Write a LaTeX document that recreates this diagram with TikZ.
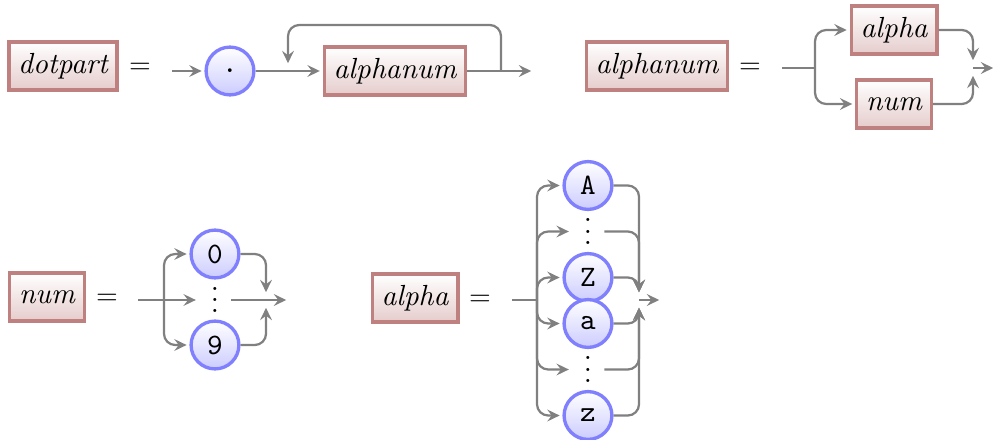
\documentclass[tikz,border=0pt]{standalone}
\usetikzlibrary{arrows.meta,calc}
\newcommand{\myvdots}{\vbox{\baselineskip=4pt\lineskiplimit=0pt\hbox{.}\hbox{.}\hbox{.}}}
\begin{document}
\begin{tikzpicture}[x=0.3571pt,y=-0.3571pt,
  nonterm/.style={rectangle, minimum size=6mm, very thick, draw=red!50!black!50,
    top color=white, bottom color=red!50!black!20, font=\fontsize{10.4pt}{12pt}\selectfont\itshape},
  term/.style={circle, minimum size=6mm, inner sep=0pt, very thick, draw=blue!50,
    top color=white, bottom color=blue!20, font=\fontsize{10.6pt}{12pt}\selectfont\ttfamily},
  dotsn/.style={inner xsep=4.2pt, inner ysep=0pt, font=\fontsize{10.4pt}{12pt}\selectfont},
  eqs/.style={inner sep=0pt},
  conn/.style={thick, draw=black!50, rounded corners=4pt, shorten >=1pt,
    -{Stealth[length=4.4pt,width=4.2pt,inset=1.6pt]}},
  plain/.style={thick, draw=black!50, rounded corners=4pt}]
\useasboundingbox (0,0) rectangle (996,439);

% dotpart = . alphanum (loop)
\node[nonterm] (dp) at (63,66) {dotpart};
\node[eqs] (e1) at (140,68) {$=$};
\node[term] (dot) at (230,71) {.};
\node[nonterm] (an1) at (395,71) {alphanum};
\coordinate (s1) at (172,71);
\coordinate (t1) at (534,71);
\coordinate (lpa) at (501,71);
\coordinate (lpb) at (501,25);
\coordinate (lpc) at (288,25);
\coordinate (lpd) at (288,66);
\draw[conn] (s1) -- (dot);
\draw[conn] (dot) -- (an1);
\draw[conn] (an1) -- (t1);
\draw[conn] (lpa) -- (lpb) -- (lpc) -- (lpd);

% alphanum = alpha | num
\node[nonterm] (an2) at (657,66) {alphanum};
\node[eqs] (e2) at (750,68) {$=$};
\node[nonterm] (al1) at (894,30) {alpha};
\node[nonterm] (nm1) at (894,104) {num};
\coordinate (s2) at (782,68);
\coordinate (b2) at (815,68);
\coordinate (m2) at (973,68);
\coordinate (t2) at (996,68);
\draw[plain] (s2) -- (b2);
\draw[conn] (b2) |- (al1);
\draw[conn] (b2) |- (nm1);
\draw[conn] (al1) -| ($(m2)+(0,-5)$);
\draw[conn] (nm1) -| ($(m2)+(0,5)$);
\draw[conn] (m2) -- (t2);

% num = 0 | ... | 9
\node[nonterm] (nm2) at (47,297) {num};
\node[eqs] (e3) at (107,299) {$=$};
\node[term] (d0) at (215,254) {0};
\node[dotsn] (dv1) at (215,300) {\myvdots};
\node[term] (d9) at (215,345) {9};
\coordinate (s3) at (138,300);
\coordinate (b3) at (164,300);
\coordinate (m3) at (266,300);
\coordinate (t3) at (289,300);
\draw[conn] (s3) -- (dv1);
\draw[conn] (b3) |- (d0);
\draw[conn] (b3) |- (d9);
\draw[conn] (d0) -| ($(m3)+(0,-5)$);
\draw[conn] (d9) -| ($(m3)+(0,5)$);
\draw[conn] (dv1) -- (t3);

% alpha = A | ... | Z | a | ... | z
\node[nonterm] (al2) at (415,298) {alpha};
\node[eqs] (e4) at (480,300) {$=$};
\node[term] (nA) at (588,185.5) {A};
\node[dotsn] (ndA) at (588,231.5) {\myvdots};
\node[term] (nZ) at (588,277.5) {Z};
\node[term] (na) at (588,323.5) {a};
\node[dotsn] (nda) at (588,369.5) {\myvdots};
\node[term] (nz) at (588,415.5) {z};
\coordinate (s4) at (512,300);
\coordinate (b4) at (537,300);
\coordinate (m4) at (639,300);
\coordinate (t4) at (662,300);
\draw[plain] (s4) -- (b4);
\foreach \n in {nA,ndA,nZ,na,nda,nz} \draw[conn] (b4) |- (\n);
\foreach \n in {nA,ndA,nZ} \draw[conn] (\n) -| ($(m4)+(0,-5)$);
\foreach \n in {na,nda,nz} \draw[conn] (\n) -| ($(m4)+(0,5)$);
\draw[conn] (m4) -- (t4);
\end{tikzpicture}
\end{document}
